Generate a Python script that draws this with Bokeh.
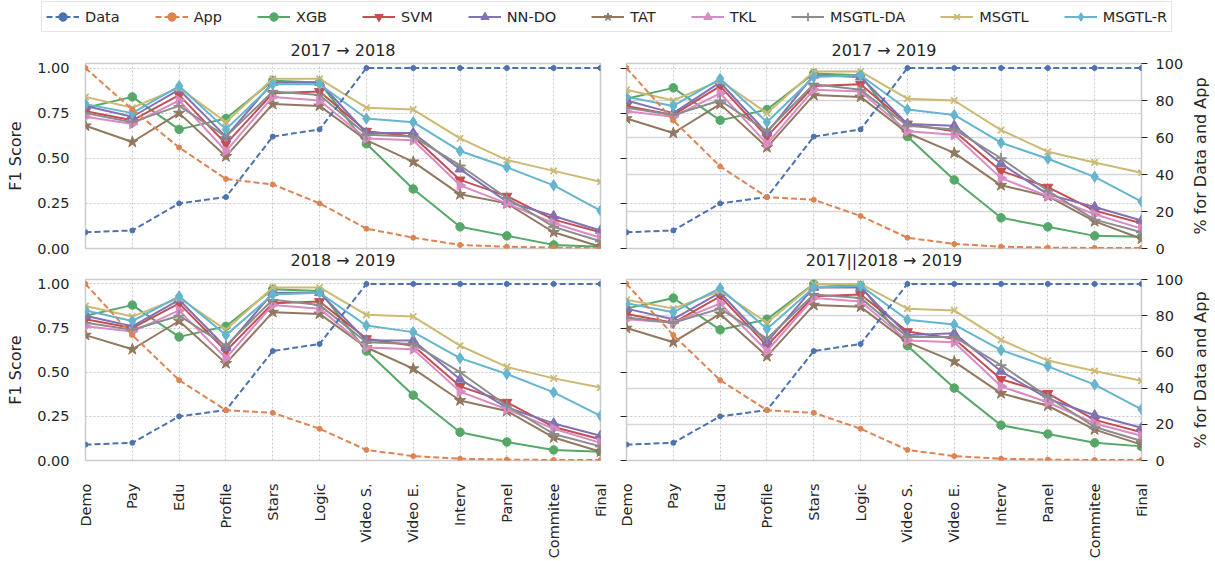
import math
from bokeh.plotting import figure
from bokeh.models import (Range1d, LinearAxis, FixedTicker, Grid, Legend, LegendItem,
                          PrintfTickFormatter, Label, Title)
from bokeh.layouts import column, row
from bokeh.embed import file_html
from bokeh.resources import INLINE

# ---------------- data ----------------
categories = ["Demo", "Pay", "Edu", "Profile", "Stars", "Logic", "Video S.",
              "Video E.", "Interv", "Panel", "Commitee", "Final"]
models = ["XGB", "SVM", "NN-DO", "TAT", "TKL", "MSGTL-DA", "MSGTL", "MSGTL-R"]

panel_titles = ["2017 \u2192 2018", "2017 \u2192 2019", "2018 \u2192 2019", "2017||2018 \u2192 2019"]

data_pct = [9, 10, 25, 28.5, 62, 66, 100, 100, 100, 100, 100, 100]
app_pct_2017_2018 = [100, 77, 56, 38.5, 35.5, 25, 11, 6, 2, 1, 0.5, 0.3]
app_pct_to_2019 = [100, 71, 45.5, 28.5, 27, 18, 6, 2.5, 1, 0.5, 0.3, 0.3]

f1_2017_2018 = {
    "XGB":      [0.78, 0.84, 0.66, 0.72, 0.93, 0.92, 0.58, 0.33, 0.12, 0.07, 0.02, 0.01],
    "SVM":      [0.76, 0.71, 0.85, 0.58, 0.86, 0.87, 0.65, 0.62, 0.38, 0.29, 0.16, 0.09],
    "NN-DO":    [0.79, 0.73, 0.88, 0.62, 0.92, 0.92, 0.64, 0.64, 0.44, 0.26, 0.18, 0.10],
    "TAT":      [0.68, 0.59, 0.75, 0.51, 0.80, 0.79, 0.60, 0.48, 0.30, 0.25, 0.09, 0.01],
    "TKL":      [0.73, 0.69, 0.82, 0.54, 0.84, 0.82, 0.61, 0.60, 0.35, 0.25, 0.14, 0.06],
    "MSGTL-DA": [0.75, 0.70, 0.79, 0.62, 0.87, 0.85, 0.63, 0.62, 0.46, 0.28, 0.12, 0.04],
    "MSGTL":    [0.84, 0.78, 0.89, 0.70, 0.94, 0.94, 0.78, 0.77, 0.61, 0.49, 0.43, 0.37],
    "MSGTL-R":  [0.80, 0.75, 0.90, 0.66, 0.91, 0.91, 0.72, 0.70, 0.54, 0.45, 0.35, 0.21],
}
f1_2017_2019 = {
    "XGB":      [0.83, 0.89, 0.71, 0.77, 0.97, 0.96, 0.62, 0.38, 0.17, 0.12, 0.07, 0.065],
    "SVM":      [0.79, 0.74, 0.90, 0.62, 0.90, 0.91, 0.69, 0.65, 0.43, 0.34, 0.21, 0.14],
    "NN-DO":    [0.82, 0.75, 0.92, 0.64, 0.96, 0.95, 0.69, 0.68, 0.47, 0.30, 0.23, 0.155],
    "TAT":      [0.72, 0.64, 0.80, 0.56, 0.85, 0.84, 0.64, 0.53, 0.35, 0.29, 0.15, 0.054],
    "TKL":      [0.76, 0.73, 0.86, 0.58, 0.88, 0.87, 0.65, 0.63, 0.39, 0.29, 0.19, 0.11],
    "MSGTL-DA": [0.78, 0.74, 0.82, 0.65, 0.91, 0.88, 0.68, 0.66, 0.50, 0.32, 0.16, 0.09],
    "MSGTL":    [0.88, 0.82, 0.93, 0.75, 0.98, 0.98, 0.83, 0.82, 0.656, 0.536, 0.477, 0.42],
    "MSGTL-R":  [0.84, 0.79, 0.94, 0.70, 0.95, 0.96, 0.77, 0.74, 0.586, 0.497, 0.397, 0.26],
}
f1_2018_2019 = {
    "XGB":      [0.82, 0.88, 0.70, 0.76, 0.97, 0.96, 0.62, 0.37, 0.16, 0.105, 0.06, 0.05],
    "SVM":      [0.80, 0.75, 0.89, 0.62, 0.89, 0.90, 0.69, 0.65, 0.42, 0.33, 0.19, 0.12],
    "NN-DO":    [0.82, 0.76, 0.91, 0.64, 0.95, 0.95, 0.68, 0.68, 0.46, 0.30, 0.21, 0.14],
    "TAT":      [0.71, 0.63, 0.79, 0.55, 0.84, 0.83, 0.64, 0.52, 0.34, 0.28, 0.13, 0.05],
    "TKL":      [0.76, 0.73, 0.85, 0.58, 0.88, 0.86, 0.64, 0.63, 0.39, 0.29, 0.18, 0.10],
    "MSGTL-DA": [0.78, 0.74, 0.82, 0.65, 0.91, 0.88, 0.67, 0.66, 0.50, 0.31, 0.15, 0.08],
    "MSGTL":    [0.875, 0.815, 0.92, 0.74, 0.98, 0.98, 0.825, 0.815, 0.65, 0.53, 0.465, 0.413],
    "MSGTL-R":  [0.85, 0.79, 0.93, 0.71, 0.94, 0.95, 0.764, 0.727, 0.58, 0.49, 0.386, 0.253],
}
f1_2017u2018_2019 = {
    "XGB":      [0.86, 0.92, 0.74, 0.80, 1.00, 0.99, 0.65, 0.41, 0.20, 0.15, 0.10, 0.08],
    "SVM":      [0.83, 0.78, 0.93, 0.65, 0.93, 0.94, 0.73, 0.69, 0.46, 0.38, 0.23, 0.16],
    "NN-DO":    [0.86, 0.80, 0.95, 0.67, 0.98, 0.98, 0.71, 0.72, 0.505, 0.35, 0.256, 0.185],
    "TAT":      [0.75, 0.67, 0.83, 0.59, 0.88, 0.87, 0.67, 0.56, 0.38, 0.31, 0.175, 0.09],
    "TKL":      [0.80, 0.78, 0.89, 0.62, 0.92, 0.90, 0.68, 0.67, 0.42, 0.33, 0.21, 0.14],
    "MSGTL-DA": [0.81, 0.78, 0.86, 0.69, 0.94, 0.92, 0.70, 0.70, 0.54, 0.36, 0.19, 0.11],
    "MSGTL":    [0.91, 0.86, 0.96, 0.78, 1.00, 1.00, 0.86, 0.85, 0.683, 0.566, 0.507, 0.452],
    "MSGTL-R":  [0.89, 0.84, 0.976, 0.745, 0.98, 0.99, 0.797, 0.77, 0.625, 0.533, 0.43, 0.29],
}

f1_ticks = [0, 0.25, 0.5, 0.75, 1.0]
pct_ticks = [0, 20, 40, 60, 80, 100]
right_label = "% for Data and App"

# ---------------- styles ----------------
FONT = "DejaVu Sans"
TXT = "#262626"
colors = {"Data": "#4C72B0", "App": "#DD8452", "XGB": "#55A868", "SVM": "#C44E52",
          "NN-DO": "#8172B3", "TAT": "#937860", "TKL": "#DA8BC3", "MSGTL-DA": "#8C8C8C",
          "MSGTL": "#CCB974", "MSGTL-R": "#64B5CD"}
markers = {"Data": ("circle", 5, 0), "App": ("circle", 5, 0),
           "XGB": ("circle", 8.5, 0), "SVM": ("inverted_triangle", 10, 0),
           "NN-DO": ("triangle", 10, 0), "TAT": ("star", 12, 0),
           "TKL": ("triangle", 10, -math.pi / 2), "MSGTL-DA": ("cross", 11, 0),
           "MSGTL": ("x", 9, 0), "MSGTL-R": ("diamond", 11, 0)}
xs = list(range(len(categories)))


def style_title(t):
    t.align = "center"
    t.text_font = FONT
    t.text_font_size = "16px"
    t.text_font_style = "normal"
    t.text_color = TXT


def draw_series(p, name, y, y_range_name="default"):
    c = colors[name]
    m, s, ang = markers[name]
    dash = "6 3" if name in ("Data", "App") else "solid"
    r1 = p.line(xs, y, line_color=c, line_width=2, line_dash=dash, y_range_name=y_range_name)
    if m in ("cross", "x"):
        r2 = p.scatter(xs, y, marker=m, size=s, line_color=c, line_width=1.8,
                       fill_color=None, y_range_name=y_range_name)
    else:
        r2 = p.scatter(xs, y, marker=m, size=s, line_color=c, fill_color=c,
                       angle=ang, y_range_name=y_range_name)
    return r1, r2


def make_panel(title, below_title, f1, app, left_labels, right_axis, bottom_labels,
               width, height, bl, br, bt, bb):
    p = figure(width=width, height=height, x_range=Range1d(0, len(categories) - 1),
               y_range=Range1d(0, 1.025), output_backend="svg", toolbar_location=None,
               min_border_left=bl, min_border_right=br, min_border_top=bt,
               min_border_bottom=bb, title=title)
    p.extra_y_ranges = {"pct": Range1d(0, 102.5), "pct_axis": Range1d(0, 100)}
    p.background_fill_color = "white"
    p.border_fill_color = "white"
    p.outline_line_color = "#cccccc"
    p.outline_line_width = 1.5

    if title:
        style_title(p.title)
        p.title.standoff = 7
    if below_title:
        # title of the panel underneath, drawn in this panel's lower margin
        bt_ = Title(text=below_title, standoff=0)
        style_title(bt_)
        p.add_layout(bt_, "below")

    # x axis
    xa = p.xaxis[0]
    xa.ticker = FixedTicker(ticks=xs)
    xa.major_label_overrides = {i: c for i, c in enumerate(categories)}
    xa.axis_line_color = None
    xa.major_tick_out = 0
    xa.major_tick_in = 0
    xa.minor_tick_out = 0
    xa.minor_tick_in = 0
    xa.major_label_text_font = FONT
    xa.major_label_text_font_size = "14.5px"
    xa.major_label_text_color = TXT
    xa.major_label_orientation = math.pi / 2
    xa.major_label_standoff = 23
    if not bottom_labels:
        xa.visible = False

    # left axis
    ya = p.yaxis[0]
    ya.ticker = FixedTicker(ticks=f1_ticks)
    ya.axis_line_color = None
    ya.minor_tick_out = 0
    ya.minor_tick_in = 0
    ya.major_tick_in = 0
    ya.major_label_text_font = FONT
    ya.major_label_text_font_size = "14.5px"
    ya.major_label_text_color = TXT
    if left_labels:
        ya.formatter = PrintfTickFormatter(format="%.2f")
        ya.major_tick_out = 0
        ya.major_label_standoff = 16
        ya.axis_label = "F1 Score"
        ya.axis_label_text_font = FONT
        ya.axis_label_text_font_size = "16px"
        ya.axis_label_text_font_style = "normal"
        ya.axis_label_text_color = TXT
        ya.axis_label_standoff = 9
    else:
        ya.major_label_overrides = {t: "" for t in f1_ticks}
        ya.major_tick_out = 6
        ya.major_tick_line_color = TXT
        ya.major_tick_line_width = 1.2
        ya.major_label_standoff = 0

    # grids
    for g in (p.xgrid[0], p.ygrid[0]):
        g.grid_line_color = "#c8c8c8"
        g.grid_line_width = 1
        g.grid_line_dash = "2 2"
    p.xgrid[0].ticker = FixedTicker(ticks=xs)
    p.ygrid[0].ticker = FixedTicker(ticks=f1_ticks)

    if right_axis:
        ra = LinearAxis(y_range_name="pct_axis", ticker=FixedTicker(ticks=pct_ticks))
        ra.axis_line_color = None
        ra.minor_tick_out = 0
        ra.minor_tick_in = 0
        ra.major_tick_in = 0
        ra.major_tick_out = 6
        ra.major_tick_line_color = TXT
        ra.major_tick_line_width = 1.2
        ra.major_label_standoff = 8
        ra.major_label_text_font = FONT
        ra.major_label_text_font_size = "14.5px"
        ra.major_label_text_color = TXT
        p.add_layout(ra, "right")
        rg = Grid(dimension=1, ticker=FixedTicker(ticks=pct_ticks), y_range_name="pct_axis",
                  grid_line_color="#d6d6d6", grid_line_width=1.3)
        p.add_layout(rg)

    for name in models:
        draw_series(p, name, f1[name])
    draw_series(p, "Data", data_pct, "pct")
    draw_series(p, "App", app, "pct")
    return p


def make_side_label(height, bt, bb):
    s = figure(width=22, height=height, x_range=Range1d(0, 1), y_range=Range1d(0, 1),
               x_axis_type=None, y_axis_type=None, output_backend="svg",
               toolbar_location=None, min_border_left=0, min_border_right=0,
               min_border_top=bt, min_border_bottom=bb)
    s.outline_line_color = None
    s.background_fill_color = "white"
    s.border_fill_color = "white"
    s.add_layout(Label(x=0.5, y=0.5, text=right_label, angle=math.pi / 2,
                       text_align="center", text_baseline="middle", text_font=FONT,
                       text_font_size="16px", text_color=TXT))
    return s


# ---------------- legend strip ----------------
# legend renderers use the first panel's series; the strip's x range lies outside the data
leg = figure(width=1215, height=35, x_range=Range1d(-30, -20), y_range=Range1d(0, 1),
             x_axis_type=None, y_axis_type=None, output_backend="svg",
             toolbar_location=None, min_border=0)
leg.outline_line_color = None
leg.background_fill_color = "white"
leg.border_fill_color = "white"
items = []
for name in ["Data", "App"] + models:
    yv = data_pct if name == "Data" else (app_pct_2017_2018 if name == "App" else f1_2017_2018[name])
    r1, r2 = draw_series(leg, name, yv)
    items.append(LegendItem(label=name, renderers=[r1, r2]))
legend = Legend(items=items, orientation="horizontal", location=(41, 3),
                glyph_width=33, glyph_height=21, label_height=21, label_standoff=6,
                spacing=35, padding=4, margin=0,
                label_text_font=FONT, label_text_font_size="14.5px", label_text_color=TXT,
                border_line_color="#cccccc", border_line_width=1,
                background_fill_color="white", background_fill_alpha=1)
leg.add_layout(legend)

# ---------------- panels ----------------
TOP_H, BOT_H = 235, 291
p1 = make_panel(panel_titles[0], panel_titles[2], f1_2017_2018, app_pct_2017_2018,
                True, False, False, 613, TOP_H, 85, 13, 28, 22)
p2 = make_panel(panel_titles[1], panel_titles[3], f1_2017_2019, app_pct_to_2019,
                False, True, False, 576, TOP_H, 13, 48, 28, 22)
p3 = make_panel(None, None, f1_2018_2019, app_pct_to_2019,
                True, False, True, 613, BOT_H, 85, 13, 9, 100)
p4 = make_panel(None, None, f1_2017u2018_2019, app_pct_to_2019,
                False, True, True, 576, BOT_H, 13, 48, 9, 100)
s1 = make_side_label(TOP_H, 28, 22)
s2 = make_side_label(BOT_H, 9, 100)

layout = column(leg, row(p1, p2, s1), row(p3, p4, s2))
open("out.html", "w").write(file_html(layout, INLINE))
